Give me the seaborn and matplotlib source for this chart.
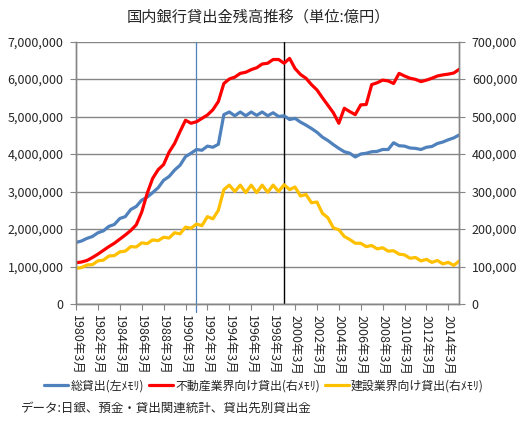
import matplotlib
matplotlib.use("Agg")
import matplotlib.pyplot as plt
import seaborn as sns
import numpy as np
import pandas as pd

# ---- data (semiannual, March / September, from 1980年3月) ----
start_year = 1980
periods_per_year = 2

total_loans = [  # 総貸出 (left axis, 億円)
    1640000, 1680000, 1750000, 1800000, 1900000, 1950000, 2070000, 2120000, 2280000, 2330000,
    2520000, 2600000, 2770000, 2850000, 2970000, 3100000, 3300000, 3400000, 3570000, 3700000,
    3930000, 4020000, 4120000, 4100000, 4210000, 4180000, 4260000, 5050000, 5120000, 5020000,
    5120000, 5020000, 5120000, 5030000, 5120000, 5020000, 5100000, 5000000, 5020000, 4920000,
    4950000, 4850000, 4770000, 4680000, 4580000, 4450000, 4360000, 4250000, 4150000, 4060000,
    4020000, 3920000, 4000000, 4020000, 4060000, 4070000, 4120000, 4120000, 4300000, 4220000,
    4210000, 4160000, 4150000, 4120000, 4180000, 4200000, 4280000, 4320000, 4380000, 4430000,
    4510000,
]
real_estate_loans = [  # 不動産業界向け貸出 (right axis)
    110000, 112000, 116000, 124000, 133000, 143000, 153000, 162000, 173000, 184000,
    196000, 211000, 245000, 295000, 335000, 358000, 372000, 405000, 428000, 460000,
    490000, 482000, 486000, 495000, 504000, 518000, 540000, 588000, 600000, 605000,
    615000, 618000, 625000, 630000, 640000, 642000, 652000, 652000, 642000, 655000,
    628000, 612000, 602000, 585000, 571000, 550000, 530000, 510000, 482000, 522000,
    513000, 505000, 531000, 532000, 585000, 590000, 597000, 595000, 588000, 615000,
    608000, 602000, 599000, 593000, 597000, 602000, 608000, 611000, 613000, 616000,
    626000,
]
construction_loans = [  # 建設業界向け貸出 (right axis)
    95000, 97000, 104000, 105000, 115000, 117000, 128000, 129000, 139000, 141000,
    153000, 152000, 163000, 161000, 171000, 169000, 178000, 176000, 190000, 187000,
    205000, 202000, 213000, 209000, 233000, 227000, 250000, 305000, 317000, 300000,
    317000, 297000, 317000, 297000, 317000, 298000, 317000, 300000, 318000, 305000,
    312000, 288000, 292000, 270000, 272000, 242000, 230000, 203000, 198000, 180000,
    172000, 162000, 162000, 153000, 156000, 147000, 150000, 141000, 142000, 133000,
    131000, 122000, 124000, 115000, 119000, 111000, 116000, 107000, 111000, 103000,
    115000,
]
years = [start_year + i / periods_per_year for i in range(len(total_loans))]

tick_years = list(range(1980, 2015, 2))
tick_labels = [f"{y}年3月" for y in tick_years]
left_ticks = list(range(0, 7000001, 1000000))
right_ticks = list(range(0, 700001, 100000))
event_years = [1990.93, 1999.0]  # 縦線

title = "国内銀行貸出金残高推移（単位:億円）"
series_labels = ["総貸出(左ﾒﾓﾘ)", "不動産業界向け貸出(右ﾒﾓﾘ)", "建設業界向け貸出(右ﾒﾓﾘ)"]
source_text = "データ:日銀、預金・貸出関連統計、貸出先別貸出金"

colors = ["#4F81BD", "#FF0000", "#FFC000"]

# ---- style ----
sns.set_style("white")
plt.rcParams["font.family"] = ["Noto Sans CJK JP", "DejaVu Sans"]
grid_color = "#868686"

df = pd.DataFrame({"year": years, "total": total_loans,
                   "re": real_estate_loans, "con": construction_loans})

fig = plt.figure(figsize=(5.25, 4.28), dpi=100)
L, R, T, B = 76, 459.3, 41.5, 304
ax = fig.add_axes([L / 525, 1 - B / 428, (R - L) / 525, (B - T) / 428])
ax2 = ax.twinx()

lw = 2.3
sns.lineplot(data=df, x="year", y="total", ax=ax, color=colors[0], lw=lw, legend=False)
sns.lineplot(data=df, x="year", y="re", ax=ax2, color=colors[1], lw=lw, legend=False)
sns.lineplot(data=df, x="year", y="con", ax=ax2, color=colors[2], lw=lw, legend=False)

ax.set_xlim(years[0], years[-1])
ax.set_ylim(0, 7000000)
ax2.set_ylim(0, 700000)

ax.set_yticks(left_ticks)
ax.set_yticklabels([f"{v:,}" for v in left_ticks], fontsize=9)
ax2.set_yticks(right_ticks)
ax2.set_yticklabels([f"{v:,}" for v in right_ticks], fontsize=9)
ax.set_xticks(tick_years)
ax.set_xticklabels(tick_labels, rotation=-90, fontsize=9, va="top", ha="center")

ax.yaxis.grid(True, color=grid_color, lw=1)
ax.xaxis.grid(False)
ax2.grid(False)
for a in (ax, ax2):
    a.set_xlabel("")
    a.set_ylabel("")
    for s in ("left", "right", "bottom"):
        a.spines[s].set_color(grid_color)
        a.spines[s].set_linewidth(1)
    a.spines["top"].set_visible(False)
ax.tick_params(axis="y", direction="out", length=4, color=grid_color, pad=5, left=True)
ax2.tick_params(axis="y", direction="out", length=4, color=grid_color, pad=5, right=True)
ax.tick_params(axis="x", direction="out", length=4, color=grid_color, pad=4, bottom=True)

# vertical markers
ax.axvline(event_years[0], ymin=-0.03, ymax=1.0, color="#4F81BD", lw=0.9, clip_on=False, zorder=1)
ax.axvline(event_years[1], ymin=0, ymax=1.0, color="black", lw=1.0, zorder=1)

ax.set_zorder(ax2.get_zorder() - 1)
ax2.patch.set_visible(False)

# title
fig.text(0.493, 1 - 17 / 428, title, ha="center", va="center", fontsize=11)

# legend
handles = [ax.get_lines()[0], ax2.get_lines()[0], ax2.get_lines()[1]]
fig.legend(handles, series_labels, loc="center", bbox_to_anchor=(0.503, 1 - 386 / 428),
           ncol=3, frameon=False, fontsize=8.6, handlelength=2.0, handletextpad=0.2,
           columnspacing=0.4, borderaxespad=0)

fig.text(20.7 / 525, 1 - 408 / 428, source_text, ha="left", va="center", fontsize=9)

fig.savefig("out.png", dpi=100)
